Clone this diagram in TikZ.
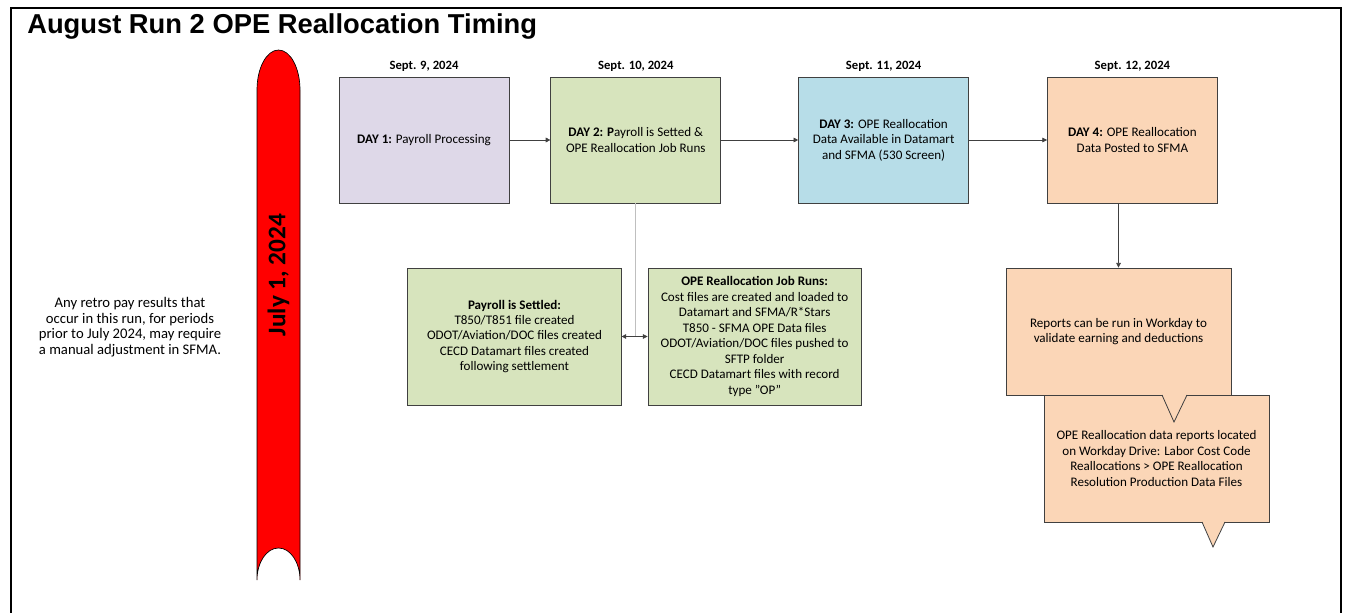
\documentclass[tikz,border=0pt]{standalone}
\usepackage{fontspec}
\setmainfont{Carlito}
\newfontfamily\headfont{Liberation Sans}
\usetikzlibrary{arrows.meta,positioning}
\definecolor{lilac}{HTML}{DED8E8}
\definecolor{sage}{HTML}{D7E4BD}
\definecolor{sky}{HTML}{B7DDE8}
\definecolor{peach}{HTML}{FBD6B7}
\definecolor{outline}{HTML}{404040}
\definecolor{faint}{HTML}{BFBFBF}

\begin{document}
\begin{tikzpicture}[x=0.75pt,y=-0.75pt,font=\fontsize{9.8}{11.6}\selectfont,
  day/.style={draw=outline,line width=0.6pt,minimum width=127.5pt,minimum height=94.5pt,
              align=center,inner sep=2pt},
  sub/.style={draw=outline,fill=sage,line width=0.6pt,minimum width=160pt,minimum height=102.75pt,
              align=center,inner sep=2pt},
  note/.style={draw=outline,fill=peach,line width=0.6pt,minimum width=168.75pt,minimum height=95.25pt,
               align=center,inner sep=2pt},
  dt/.style={font=\fontsize{9.5}{11}\selectfont\bfseries,inner sep=1pt},
  ar/.style={-{Triangle[length=3.5pt,width=3.5pt]},draw=outline,line width=0.5pt},
  dbl/.style={{Triangle[length=3.5pt,width=3.5pt]}-{Triangle[length=3.5pt,width=3.5pt]},draw=outline,line width=0.5pt}]
\useasboundingbox (0,0) rectangle (1348,613);
\draw[line width=1.2pt] (11,613) -- (11,8) -- (1341,8) -- (1341,613);
\node[anchor=base west,inner sep=0pt,font=\headfont\bfseries\fontsize{20.5}{24}\selectfont] (title) at (27,34)
  {August Run 2 OPE Reallocation Timing};
% red timeline bar
\draw[fill=red,line width=0.5pt] (257,580) -- (257,90)
  .. controls (257,67.9) and (266.6,50) .. (278.5,50)
  .. controls (290.4,50) and (300,67.9) .. (300,90) -- (300,580)
  .. controls (300,562.3) and (290.4,548) .. (278.5,548)
  .. controls (266.6,548) and (257,562.3) .. (257,580) -- cycle;
\node[rotate=90,font=\bfseries\fontsize{19}{22}\selectfont] (july) at (278.5,275) {July 1, 2024};
\node[align=center,font=\fontsize{11}{11.6}\selectfont] (retro) at (130,327) {Any retro pay results that\\occur in this run, for periods\\
  prior to July 2024, may require\\a manual adjustment in SFMA.};
% day boxes
\node[day,fill=lilac] (day1) at (424,140) {\textbf{DAY 1:} Payroll Processing};
\node[day,fill=sage,right=30.75pt of day1] (day2) {\textbf{DAY 2: P}ayroll is Setted \&\\OPE Reallocation Job Runs};
\node[day,fill=sky,right=57.75pt of day2] (day3) {\textbf{DAY 3:} OPE Reallocation\\Data Available in Datamart\\and SFMA (530 Screen)};
\node[day,fill=peach,right=58.5pt of day3] (day4) {\textbf{DAY 4:} OPE Reallocation\\Data Posted to SFMA};
\node[dt,above=3pt of day1] (s1) {Sept. 9, 2024};
\node[dt,above=3pt of day2] (s2) {Sept. 10, 2024};
\node[dt,above=3pt of day3] (s3) {Sept. 11, 2024};
\node[dt,above=3pt of day4] (s4) {Sept. 12, 2024};
% day 2 details
\node[sub] (settle) at (514.5,336.5) {\textbf{Payroll is Settled:}\\T850/T851 file created\\ODOT/Aviation/DOC files created\\
  CECD Datamart files created\\following settlement};
\node[sub,right=19.5pt of settle] (jobrun) {\textbf{OPE Reallocation Job Runs:}\\Cost files are created and loaded to\\
  Datamart and SFMA/R*Stars\\T850 - SFMA OPE Data files\\ODOT/Aviation/DOC files pushed to\\SFTP folder\\
  CECD Datamart files with record\\type "OP"};
% day 4 notes
\node[note] (drive) at (1156.5,458.5) {OPE Reallocation data reports located\\on Workday Drive: Labor Cost Code\\
  Reallocations > OPE Reallocation\\Resolution Production Data Files};
\fill[peach] (1202,521) -- (1213,547) -- (1225,521) -- cycle;
\draw[outline,line width=0.6pt] (1202,522) -- (1213,547) -- (1225,522);
\node[note] (rep) at (1118.5,331.5) {Reports can be run in Workday to\\validate earning and deductions};
\fill[peach] (1162,394) -- (1174,422) -- (1187,394) -- cycle;
\draw[outline,line width=0.6pt] (1162,395) -- (1174,422) -- (1187,395);
\draw[ar] (day1) -- (day2);
\draw[ar] (day2) -- (day3);
\draw[ar] (day3) -- (day4);
\draw[ar] (day4.south -| rep.north) -- (rep.north);
\draw[faint,line width=0.6pt] (day2.south) -- (day2.south |- settle.east);
\draw[dbl] (settle) -- (jobrun);
\end{tikzpicture}
\end{document}
